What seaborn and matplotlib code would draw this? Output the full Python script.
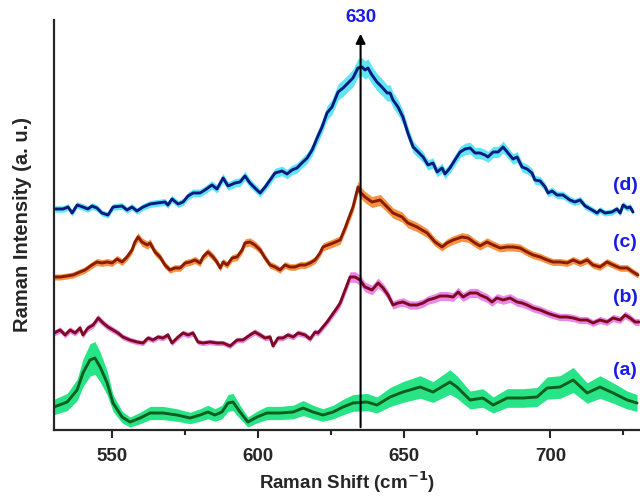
import numpy as np
import pandas as pd
import matplotlib
matplotlib.use("Agg")
import matplotlib.pyplot as plt
import seaborn as sns

# spectra (x = Raman shift, y = arbitrary intensity)
d_x = [530.3, 533.1, 534.8, 536.2, 537.9, 539.9, 541.6, 543.0, 544.7, 546.4, 548.5, 550.2, 553.3,
       555.0, 556.7, 558.4, 560.5, 562.9, 565.3, 568.0, 569.0, 570.4, 572.5, 574.2, 575.9, 577.6,
       580.0, 581.7, 584.1, 585.8, 587.9, 589.6, 592.0, 593.7, 595.4, 597.1, 598.8, 600.6, 602.3,
       604.0, 605.7, 608.1, 609.8, 611.5, 613.2, 614.9, 616.7, 618.4, 620.1, 621.8, 623.5, 625.2,
       627.3, 629.0, 630.7, 632.4, 634.1, 635.5, 636.5, 637.5, 638.9, 640.6, 642.3, 644.1, 645.1,
       646.1, 647.8, 649.5, 651.2, 653.0, 654.7, 656.4, 658.1, 659.8, 661.2, 662.9, 663.9, 665.6,
       667.3, 669.1, 670.8, 672.5, 674.2, 675.9, 677.6, 678.6, 680.4, 682.1, 683.8, 685.5, 687.2,
       688.6, 690.3, 692.0, 693.7, 694.7, 696.5, 698.2, 699.2, 700.6, 702.3, 704.3, 706.7, 708.4,
       710.2, 711.9, 714.3, 716.0, 717.0, 718.7, 721.1, 722.8, 723.9, 724.9, 726.3, 727.3, 728.3]
d_y = [221, 221, 223, 217, 225, 223, 221, 224, 222, 217, 215, 223, 224,
       220, 223, 219, 223, 226, 227, 228, 225, 231, 226, 228, 234, 237,
       237, 240, 245, 241, 252, 244, 247, 248, 254, 247, 242, 237, 243,
       250, 257, 259, 256, 260, 262, 267, 272, 280, 292, 303, 317, 323,
       338, 342, 347, 352, 362, 363, 360, 362, 355, 348, 343, 337, 337,
       330, 323, 313, 297, 283, 278, 273, 265, 267, 258, 262, 256, 262,
       270, 278, 281, 282, 277, 277, 275, 273, 278, 278, 283, 277, 271,
       273, 263, 261, 257, 250, 249, 243, 237, 239, 235, 235, 230, 228,
       230, 224, 220, 217, 220, 217, 218, 221, 217, 225, 222, 223, 218]

c_x = [530.0, 532.1, 534.5, 536.5, 538.9, 540.6, 543.0, 544.7, 546.4, 548.2, 549.9, 551.6, 553.3,
       555.0, 556.7, 557.7, 558.8, 560.1, 561.9, 562.9, 564.6, 566.3, 568.0, 569.7, 571.4, 573.2,
       574.9, 576.6, 578.3, 580.0, 581.0, 582.7, 584.5, 585.8, 586.9, 587.9, 589.3, 591.0, 592.7,
       594.4, 595.4, 597.1, 598.8, 600.6, 602.3, 604.0, 605.7, 607.4, 609.1, 610.8, 612.5, 614.3,
       616.0, 617.7, 619.4, 621.1, 622.1, 623.8, 625.6, 628.0, 629.7, 630.7, 632.4, 634.1, 634.8,
       636.5, 638.9, 641.7, 644.1, 646.1, 649.2, 651.2, 654.3, 657.8, 660.5, 662.9, 664.6, 666.7,
       669.7, 671.8, 674.2, 675.9, 678.3, 680.4, 682.8, 685.2, 687.2, 689.6, 692.0, 694.1, 696.5,
       698.9, 700.9, 703.3, 705.7, 707.8, 710.2, 712.6, 714.6, 717.0, 719.4, 721.5, 723.9, 726.3,
       728.3, 730.0]
c_y = [153, 153, 154, 155, 158, 160, 165, 168, 167, 168, 167, 171, 168,
       173, 180, 188, 193, 188, 185, 187, 178, 173, 165, 160, 162, 162,
       167, 168, 170, 167, 173, 178, 173, 168, 162, 168, 165, 172, 173,
       180, 187, 188, 185, 180, 172, 165, 163, 160, 165, 163, 163, 165,
       165, 167, 170, 177, 183, 185, 187, 190, 202, 210, 223, 243, 238,
       233, 228, 230, 223, 217, 213, 207, 203, 197, 188, 183, 187, 190,
       193, 192, 187, 184, 188, 185, 182, 183, 183, 182, 178, 175, 173,
       170, 168, 168, 167, 170, 167, 170, 165, 163, 168, 165, 162, 162,
       158, 155]

b_x = [530.0, 532.1, 533.8, 535.5, 537.2, 538.9, 539.9, 541.6, 543.4, 545.1, 546.8, 548.5, 550.2,
       551.9, 553.6, 556.0, 558.4, 560.5, 562.2, 563.9, 565.6, 567.3, 569.0, 570.4, 572.5, 574.2,
       575.9, 577.6, 579.3, 581.0, 583.4, 585.8, 587.9, 590.3, 592.7, 594.7, 597.1, 598.8, 600.6,
       602.3, 604.0, 605.0, 606.7, 608.4, 610.1, 611.9, 613.6, 616.0, 617.7, 619.4, 620.4, 621.8,
       623.5, 625.2, 626.9, 628.0, 629.7, 631.4, 633.1, 634.8, 636.5, 638.9, 641.0, 642.7, 644.4,
       646.1, 647.8, 649.5, 651.9, 654.3, 656.4, 658.1, 660.5, 662.2, 664.6, 666.7, 668.4, 670.1,
       672.5, 674.9, 675.9, 678.3, 680.0, 681.7, 683.8, 686.2, 688.6, 690.3, 692.0, 694.1, 696.5,
       698.9, 700.9, 703.3, 705.7, 707.8, 710.2, 712.6, 714.6, 717.0, 719.4, 721.5, 723.9, 725.6,
       727.3, 729.0, 730.4]
b_y = [97, 100, 95, 100, 97, 102, 95, 102, 105, 112, 107, 103, 100,
       97, 93, 90, 88, 87, 92, 90, 93, 92, 95, 87, 93, 97,
       95, 97, 88, 87, 88, 87, 87, 84, 90, 90, 95, 98, 95,
       92, 93, 84, 92, 92, 95, 93, 97, 95, 91, 98, 97, 102,
       108, 115, 122, 127, 140, 153, 153, 150, 143, 140, 147, 142, 135,
       125, 127, 128, 125, 125, 127, 130, 132, 134, 134, 133, 138, 133,
       137, 137, 135, 132, 128, 132, 130, 132, 128, 127, 125, 122, 120,
       117, 115, 113, 113, 112, 110, 110, 107, 110, 108, 112, 110, 115,
       112, 108, 108]

a_x = [530.0, 534.5, 537.9, 539.9, 542.3, 544.0, 545.8, 548.2, 550.2, 553.3, 556.0, 559.5, 562.9,
       567.3, 572.1, 576.6, 580.0, 582.7, 585.1, 587.5, 589.6, 591.3, 593.7, 596.4, 599.5, 602.9,
       607.4, 611.9, 615.3, 618.7, 622.1, 625.6, 629.0, 632.4, 637.2, 640.6, 645.1, 649.5, 655.4,
       659.8, 665.6, 668.0, 672.5, 676.9, 680.4, 685.2, 690.6, 695.4, 698.9, 703.3, 707.8, 712.6,
       717.0, 721.5, 726.3, 729.7]
a_y = [23, 28, 40, 57, 70, 72, 63, 47, 27, 13, 8, 12, 17,
       17, 15, 12, 15, 18, 15, 18, 27, 28, 18, 8, 13, 17,
       17, 18, 22, 18, 15, 18, 23, 27, 28, 25, 33, 38, 43,
       38, 48, 43, 30, 32, 25, 32, 32, 33, 42, 43, 50, 37,
       43, 37, 30, 27]

labels = ["(a)", "(b)", "(c)", "(d)"]
label_y = [60, 132, 187, 244]
line_colors = ["#0b5e1e", "#7e0a22", "#8a1c05", "#0a1a80"]
band_colors = ["#12e27a", "#e77ae6", "#f5872e", "#4fe3f2"]
band_base = [5, 2.5, 3, 3]
band_gain = [0.18, 0.04, 0.033, 0.042]

sns.set_style("ticks")
plt.rcParams["font.family"] = ["Liberation Sans", "DejaVu Sans"]
plt.rcParams["font.weight"] = "bold"

fig = plt.figure(figsize=(6.4, 4.97), dpi=100)
ax = fig.add_axes([0.0844, 0.1348, 0.9156, 0.825])

curves = [(a_x, a_y), (b_x, b_y), (c_x, c_y), (d_x, d_y)]
for i, (xs, ys) in enumerate(curves):
    xs = np.array(xs)
    ys = np.array(ys, dtype=float)
    spread = band_base[i] + band_gain[i] * (ys - ys.min())
    ax.fill_between(xs, ys - spread, ys + spread, color=band_colors[i], lw=0, alpha=0.9)
    df = pd.DataFrame({"shift": xs, "intensity": ys})
    sns.lineplot(data=df, x="shift", y="intensity", ax=ax, color=line_colors[i], lw=2.1)
    ax.text(721.3, label_y[i], labels[i], color="#1a1ae6", fontsize=14,
            fontweight="bold", va="center", ha="left", clip_on=False)

peak_x = 635
ax.annotate("", xy=(peak_x, 399), xytext=(peak_x, 0),
            arrowprops=dict(arrowstyle="-|>", color="black", lw=1.5, mutation_scale=14))
ax.text(peak_x, 412, "630", color="#1a1ae6", fontsize=13.5, fontweight="bold",
        ha="center", va="center", clip_on=False)

ax.set_xlim(530, 730.7)
ax.set_ylim(0, 410)
ax.set_xticks([550, 600, 650, 700])
ax.set_xticks([575, 625, 675, 725], minor=True)
ax.set_yticks([])
ax.tick_params(axis="x", which="major", length=6, width=1.5, labelsize=13.5, pad=7)
ax.tick_params(axis="x", which="minor", length=3.5, width=1.5)
for lab in ax.get_xticklabels():
    lab.set_fontweight("bold")
sns.despine(ax=ax)
for side in ["left", "bottom"]:
    ax.spines[side].set_linewidth(1.6)

ax.set_xlabel("Raman Shift (cm$^{\\mathbf{-1}}$)", fontsize=13.5, fontweight="bold", labelpad=3)
ax.set_ylabel("Raman Intensity (a. u.)", fontsize=14.5, fontweight="bold", labelpad=16)

fig.savefig("out.png", dpi=100)
